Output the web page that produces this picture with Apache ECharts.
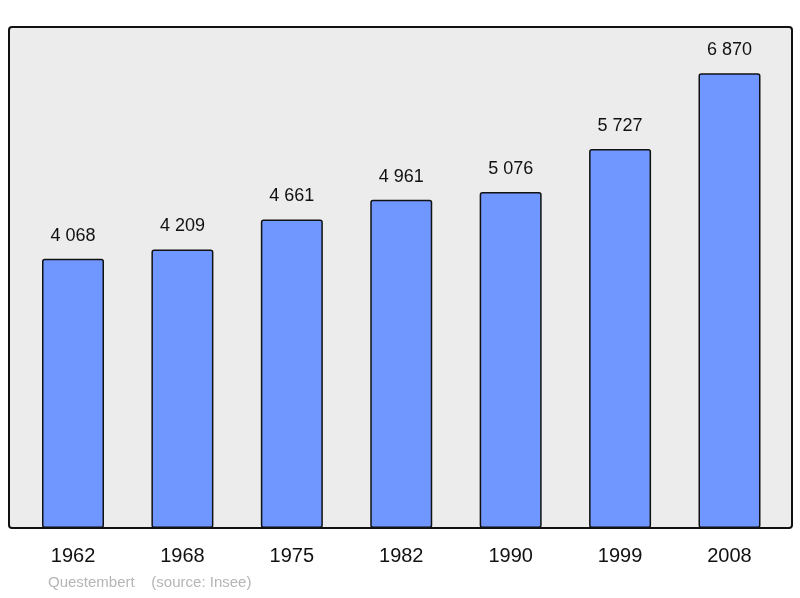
<!DOCTYPE html>
<html>
<head>
<meta charset="utf-8">
<script src="https://cdn.jsdelivr.net/npm/echarts@6/dist/echarts.min.js"></script>
<style>html,body{margin:0;padding:0;background:#fff}#chart{width:800px;height:598px}</style>
</head>
<body>
<div id="chart"></div>
<script>
var years = ['1962', '1968', '1975', '1982', '1990', '1999', '2008'];
var population = [4068, 4209, 4661, 4961, 5076, 5727, 6870];

var myChart = echarts.init(document.getElementById('chart'));
var option = {
    animation: false,
    textStyle: { fontFamily: 'Liberation Sans' },
    graphic: [
        {
            type: 'rect', z: -10,
            shape: { x: 9, y: 27, width: 783, height: 501, r: 3 },
            style: { fill: '#ececec', stroke: '#111', lineWidth: 2 }
        },
        {
            type: 'text', left: 48, top: 575,
            style: { text: 'Questembert    (source: Insee)', fill: '#b5b5b5', font: '15px Liberation Sans' }
        }
    ],
    grid: { left: 18.3, right: 15.8, top: 27, bottom: 70 },
    xAxis: {
        type: 'category',
        data: years,
        axisLine: { show: false },
        axisTick: { show: false },
        axisLabel: { color: '#111', fontSize: 20, margin: 18 }
    },
    yAxis: {
        type: 'value', min: 0, max: 7570,
        show: false, splitLine: { show: false }
    },
    series: [{
        type: 'bar',
        data: population,
        barWidth: 62,
        itemStyle: { color: '#7096ff', borderColor: '#111', borderWidth: 1.5, borderRadius: 2 },
        label: {
            show: true, position: 'top', distance: 14,
            color: '#111', fontSize: 18,
            formatter: function (p) { return String(p.value).replace(/\B(?=(\d{3})+$)/g, ' '); }
        }
    }]
};
myChart.setOption(option);
</script>
</body>
</html>
